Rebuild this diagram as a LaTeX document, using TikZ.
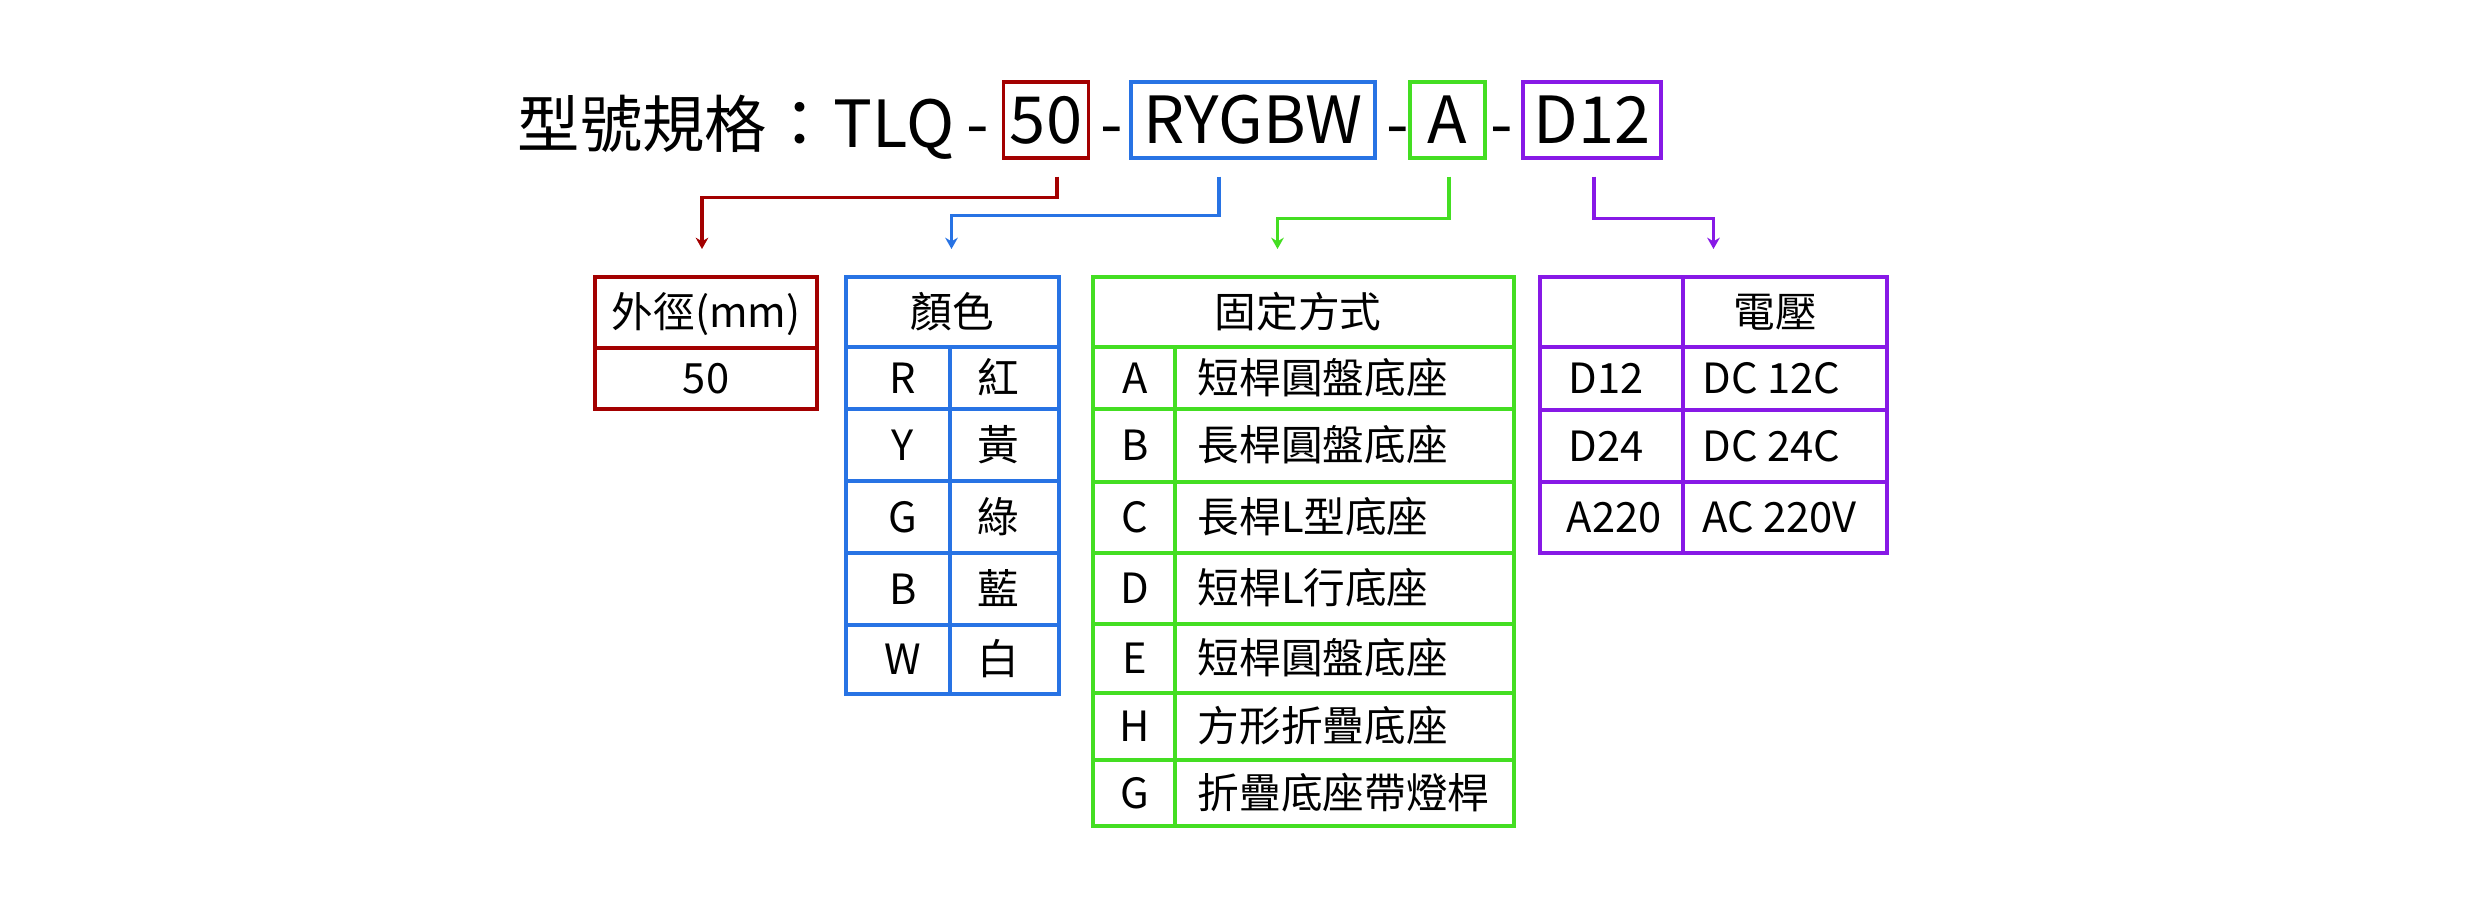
\documentclass[tikz,border=0pt]{standalone}
\usepackage{fontspec}
\setmainfont{Noto Sans CJK TC}
\usetikzlibrary{arrows.meta,calc}
\definecolor{cred}{RGB}{163,0,0}
\definecolor{cblue}{RGB}{40,115,228}
\definecolor{cgreen}{RGB}{68,222,34}
\definecolor{cpurple}{RGB}{135,25,230}
\begin{document}
\begin{tikzpicture}[x=0.3pt,y=-0.3pt,
  title/.style={font=\fontsize{19.5}{23}\selectfont, inner sep=0, anchor=base},
  keybox/.style={draw=#1, line width=0.95pt, font=\fontsize{19.5}{23}\selectfont, text height=14.3pt, text depth=0pt, inner sep=0},
  frame/.style={draw=#1, line width=1.2pt, inner sep=0},
  gline/.style={draw=#1, line width=1.2pt},
  cell/.style={font=\fontsize{12.5}{15}\selectfont, inner sep=0, text height=9.16pt, text depth=0pt},
  conn/.style={draw=#1, line width=0.95pt, -{Stealth[length=3.4pt,width=3.8pt]}},
]
\useasboundingbox (0,0) rectangle (2482,897);

% ---- title line ----
\node[title, anchor=base west, font=\fontsize{18.7}{23}\selectfont] (tt) at (517,147) {型號規格};
\node[title] (tc) at (800,147) {：};
\node[title, anchor=base west] (tlq) at (833,147) {TLQ};
\node[title] (d1) at (978,147) {-};
\node[title] (d2) at (1112,147) {-};
\node[title] (d3) at (1398,147) {-};
\node[title] (d4) at (1502,147) {-};
\node[keybox=cred, minimum width=85*0.3pt, minimum height=76*0.3pt] (b50) at (1046,120) {50};
\node[keybox=cblue, minimum width=244*0.3pt, minimum height=76*0.3pt] (bcol) at (1253,120) {RYGBW};
\node[keybox=cgreen, minimum width=75*0.3pt, minimum height=76*0.3pt] (bfix) at (1447.5,120) {A};
\node[keybox=cpurple, minimum width=138*0.3pt, minimum height=76*0.3pt] (bvolt) at (1592,120) {D12};

% ---- table 1: red ----
\node[frame=cred, minimum width=222*0.3pt, minimum height=132*0.3pt] (T1) at (706,343) {};
\draw[gline=cred] (595,348) -- (817,348);
\node[cell] (t1h) at (706,312.5) {外徑(mm)};
\node[cell] (t1a) at (706,378.5) {50};

% ---- table 2: blue ----
\node[frame=cblue, minimum width=213*0.3pt, minimum height=417*0.3pt] (T2) at (952.5,485.5) {};
\draw[gline=cblue] (950,347) -- (950,694);
\foreach \yy in {347,409,481,553,625} \draw[gline=cblue] (846,\yy) -- (1059,\yy);
\node[cell] (t2h) at (952.5,312) {顏色};
\node[cell] (t2k1) at (903,378) {R};   \node[cell] (t2v1) at (998,378) {紅};
\node[cell] (t2k2) at (903,445) {Y};   \node[cell] (t2v2) at (998,445) {黃};
\node[cell] (t2k3) at (903,517) {G};   \node[cell] (t2v3) at (998,517) {綠};
\node[cell] (t2k4) at (903,589) {B};   \node[cell] (t2v4) at (998,589) {藍};
\node[cell] (t2k5) at (903,659.5) {W}; \node[cell] (t2v5) at (998,659.5) {白};

% ---- table 3: green ----
\node[frame=cgreen, minimum width=421*0.3pt, minimum height=549*0.3pt] (T3) at (1303.5,551.5) {};
\draw[gline=cgreen] (1175,347) -- (1175,826);
\foreach \yy in {347,409,482,553,624,693,760} \draw[gline=cgreen] (1093,\yy) -- (1514,\yy);
\node[cell] (t3h) at (1298,312) {固定方式};
\node[cell] (t3k1) at (1135,378) {A};   \node[cell, anchor=west] (t3v1) at (1197,378) {短桿圓盤底座};
\node[cell] (t3k2) at (1135,445.5) {B}; \node[cell, anchor=west] (t3v2) at (1197,445.5) {長桿圓盤底座};
\node[cell] (t3k3) at (1135,517.5) {C}; \node[cell, anchor=west] (t3v3) at (1197,517.5) {長桿L型底座};
\node[cell] (t3k4) at (1135,588.5) {D}; \node[cell, anchor=west] (t3v4) at (1197,588.5) {短桿L行底座};
\node[cell] (t3k5) at (1135,658.5) {E}; \node[cell, anchor=west] (t3v5) at (1197,658.5) {短桿圓盤底座};
\node[cell] (t3k6) at (1135,726.5) {H}; \node[cell, anchor=west] (t3v6) at (1197,726.5) {方形折疊底座};
\node[cell] (t3k7) at (1135,793) {G};   \node[cell, anchor=west] (t3v7) at (1197,793) {折疊底座帶燈桿};

% ---- table 4: purple ----
\node[frame=cpurple, minimum width=347*0.3pt, minimum height=276*0.3pt] (T4) at (1713.5,415) {};
\draw[gline=cpurple] (1683,277) -- (1683,553);
\foreach \yy in {347,410,482} \draw[gline=cpurple] (1540,\yy) -- (1887,\yy);
\node[cell] (t4h) at (1775,312) {電壓};
\node[cell, anchor=west] (t4k1) at (1568,378.5) {D12};  \node[cell, anchor=west] (t4v1) at (1702,378.5) {DC 12C};
\node[cell, anchor=west] (t4k2) at (1568,446) {D24};    \node[cell, anchor=west] (t4v2) at (1702,446) {DC 24C};
\node[cell, anchor=west] (t4k3) at (1566,517.5) {A220}; \node[cell, anchor=west] (t4v3) at (1702,517.5) {AC 220V};

% ---- connectors ----
\draw[conn=cred] ($(b50.south)+(11,17)$) -- ++(0,21) -| ($(T1.north)+(-4,-26)$);
\draw[conn=cblue] ($(bcol.south)+(-34,17)$) -- ++(0,39) -| ($(T2.north)+(-1,-26)$);
\draw[conn=cgreen] ($(bfix.south)+(1.5,17)$) -- ++(0,42) -| ($(T3.north)+(-26,-26)$);
\draw[conn=cpurple] ($(bvolt.south)+(2,17)$) -- ++(0,42) -| ($(T4.north)+(0,-26)$);
\end{tikzpicture}
\end{document}
